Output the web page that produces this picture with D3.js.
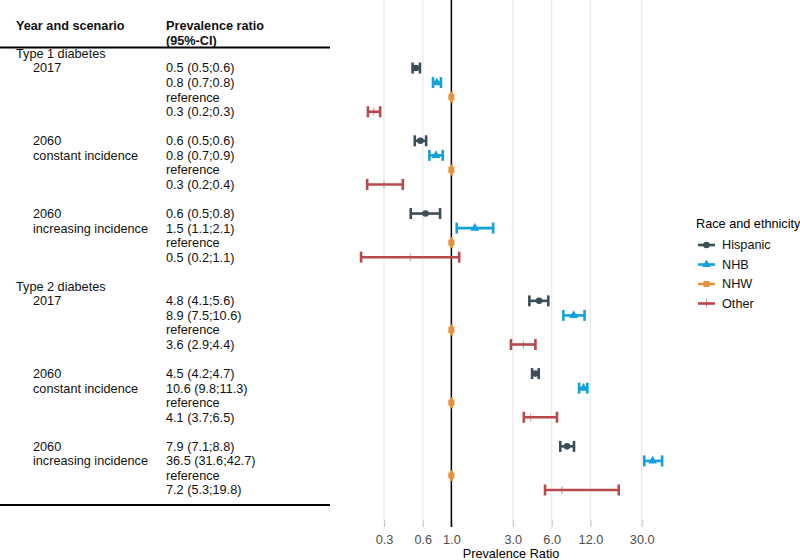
<!DOCTYPE html>
<html>
<head>
<meta charset="utf-8">
<script src="https://cdn.jsdelivr.net/npm/d3@7"></script>
<style>
  body { margin: 0; background: #fff; }
  svg { font-family: "Liberation Sans", Arial, sans-serif; }
</style>
</head>
<body>
<div id="chart"></div>
<script>
// data
var diseases = ["Type 1 diabetes", "Type 2 diabetes"]
var scenarios = [["2017"], ["2060", "constant incidence"], ["2060", "increasing incidence"]]
var races = ["Hispanic", "NHB", "NHW", "Other"]
var raceColors = ["#3b4d56", "#12a2d9", "#e68f3e", "#b9484b"]

// order: disease > scenario > race
var ciText = [
  "0.5 (0.5;0.6)", "0.8 (0.7;0.8)", "reference", "0.3 (0.2;0.3)",
  "0.6 (0.5;0.6)", "0.8 (0.7;0.9)", "reference", "0.3 (0.2;0.4)",
  "0.6 (0.5;0.8)", "1.5 (1.1;2.1)", "reference", "0.5 (0.2;1.1)",
  "4.8 (4.1;5.6)", "8.9 (7.5;10.6)", "reference", "3.6 (2.9;4.4)",
  "4.5 (4.2;4.7)", "10.6 (9.8;11.3)", "reference", "4.1 (3.7;6.5)",
  "7.9 (7.1;8.8)", "36.5 (31.6;42.7)", "reference", "7.2 (5.3;19.8)"
]
var estimate = [0.53, 0.77, 1, 0.25,  0.575, 0.76, 1, 0.30,  0.63, 1.52, 1, 0.48,
                4.8, 8.9, 1, 3.62,  4.49, 10.6, 1, 4.13,  7.9, 36.5, 1, 7.2]
var lower = [0.50, 0.72, 1, 0.225,  0.52, 0.675, 1, 0.222,  0.484, 1.10, 1, 0.199,
             4.03, 7.4, 1, 2.9,  4.23, 9.8, 1, 3.65,  7.0, 31.4, 1, 5.33]
var upper = [0.57, 0.83, 1, 0.28,  0.637, 0.857, 1, 0.42,  0.817, 2.11, 1, 1.15,
             5.65, 10.8, 1, 4.49,  4.76, 11.35, 1, 6.6,  8.95, 43.2, 1, 19.9]
var tickVals = [0.3, 0.6, 1, 3, 6, 12, 30]

var svgWidth = 800
var svgHeight = 560
var fs = "12.7px"

var svg = d3.select("#chart")
  .append("svg")
  .attr("width", svgWidth)
  .attr("height", svgHeight)

var rows = []
diseases.forEach(function(dis, d) {
  scenarios.forEach(function(sc, s) {
    races.forEach(function(race, r) {
      var i = d * 12 + s * 4 + r
      rows.push({
        row: d * 16 + 1 + s * 5 + r,
        race: r, est: estimate[i], lo: lower[i], hi: upper[i], ci: ciText[i],
        scen: r < sc.length ? sc[r] : ""
      })
    })
  })
})

var y = d3.scaleLinear().domain([0, 30]).range([53.5, 490])
var x = d3.scaleLog().domain([0.3, 30]).range([384, 641.7])
var panelBottom = 520

// grid
svg.append("g").selectAll("line")
  .data(tickVals.filter(function(v) { return v != 1 }))
  .enter().append("line")
  .attr("x1", function(d) { return x(d) }).attr("x2", function(d) { return x(d) })
  .attr("y1", 0).attr("y2", panelBottom)
  .attr("stroke", "#ebebeb").attr("stroke-width", 1.3)

// axis
var axis = svg.append("g")
  .attr("transform", "translate(0," + panelBottom + ")")
  .call(d3.axisBottom(x).tickValues(tickVals).tickFormat(d3.format(".1f")).tickSize(7).tickPadding(8))
axis.select(".domain").remove()
axis.selectAll(".tick line").attr("stroke", "#c8c8c8").attr("stroke-width", 1.2)
axis.selectAll(".tick text").attr("fill", "#4d4d4d").style("font-size", fs)
  .style("font-family", "Liberation Sans, Arial, sans-serif")

svg.append("text")
  .attr("x", 511).attr("y", 557.5)
  .attr("text-anchor", "middle")
  .style("font-size", fs)
  .text("Prevalence Ratio")

// reference line
svg.append("line")
  .attr("x1", x(1)).attr("x2", x(1))
  .attr("y1", 0).attr("y2", panelBottom + 7)
  .attr("stroke", "#000").attr("stroke-width", 1.5)

// error bars
var bars = svg.append("g").selectAll("g")
  .data(rows).enter().append("g")
  .attr("transform", function(d) { return "translate(0," + y(d.row) + ")" })
  .attr("stroke", function(d) { return raceColors[d.race] })
  .attr("fill", function(d) { return raceColors[d.race] })

bars.append("line")
  .attr("x1", function(d) { return x(d.lo) }).attr("x2", function(d) { return x(d.hi) })
  .attr("stroke-width", 2.6)
bars.append("line")
  .attr("x1", function(d) { return x(d.lo) }).attr("x2", function(d) { return x(d.lo) })
  .attr("y1", -5.5).attr("y2", 5.5).attr("stroke-width", 2.6)
bars.append("line")
  .attr("x1", function(d) { return x(d.hi) }).attr("x2", function(d) { return x(d.hi) })
  .attr("y1", -5.5).attr("y2", 5.5).attr("stroke-width", 2.6)

function drawMarker(sel, r) {
  if (r == 0) sel.append("circle").attr("r", 3.3).attr("stroke", "none")
  if (r == 1) sel.append("path").attr("d", d3.symbol().type(d3.symbolTriangle).size(34)).attr("stroke", "none")
  if (r == 2) sel.append("rect").attr("x", -3).attr("y", -3).attr("width", 6).attr("height", 6).attr("stroke", "none")
  if (r == 3) {
    sel.append("line").attr("x1", -4).attr("x2", 4).attr("stroke-width", 1).attr("opacity", 0.6)
    sel.append("line").attr("y1", -4).attr("y2", 4).attr("stroke-width", 1).attr("opacity", 0.6)
  }
}

bars.each(function(d) {
  var g = d3.select(this).append("g").attr("transform", "translate(" + x(d.est) + ",0)")
  drawMarker(g, d.race)
})

// table
var table = svg.append("g").style("font-size", fs).attr("fill", "#111")
table.append("text").attr("x", 16).attr("y", 29.5).style("font-weight", "bold").text("Year and scenario")
table.append("text").attr("x", 166).attr("y", 29.5).style("font-weight", "bold").text("Prevalence ratio")
table.append("text").attr("x", 166).attr("y", 44.5).style("font-weight", "bold").text("(95%-CI)")
table.append("line").attr("x1", 0).attr("x2", 330).attr("y1", 47.5).attr("y2", 47.5)
  .attr("stroke", "#000").attr("stroke-width", 2)
table.append("line").attr("x1", 0).attr("x2", 330).attr("y1", 505).attr("y2", 505)
  .attr("stroke", "#000").attr("stroke-width", 2)

table.selectAll(".dis")
  .data(diseases).enter().append("text")
  .attr("x", 16).attr("y", function(d, i) { return y(i * 16) }).attr("dy", "0.35em")
  .text(function(d) { return d })

table.selectAll(".scen")
  .data(rows.filter(function(d) { return d.scen != "" })).enter().append("text")
  .attr("x", 33).attr("y", function(d) { return y(d.row) }).attr("dy", "0.35em")
  .text(function(d) { return d.scen })

table.selectAll(".ci")
  .data(rows).enter().append("text")
  .attr("x", 166).attr("y", function(d) { return y(d.row) }).attr("dy", "0.35em")
  .text(function(d) { return d.ci })

// legend
var legend = svg.append("g").style("font-size", fs)
legend.append("text").attr("x", 696).attr("y", 227.5).text("Race and ethnicity")
var items = legend.selectAll(".item")
  .data(races).enter().append("g")
  .attr("transform", function(d, i) { return "translate(0," + (245 + i * 19.5) + ")" })
  .attr("stroke", function(d, i) { return raceColors[i] })
  .attr("fill", function(d, i) { return raceColors[i] })
items.append("line").attr("x1", 698).attr("x2", 715).attr("stroke-width", 2.6)
items.each(function(d, i) {
  var g = d3.select(this).append("g").attr("transform", "translate(706.5,0)")
  drawMarker(g, i)
})
items.append("text").attr("x", 722).attr("dy", "0.35em")
  .attr("fill", "#111").attr("stroke", "none")
  .text(function(d) { return d })
</script>
</body>
</html>
